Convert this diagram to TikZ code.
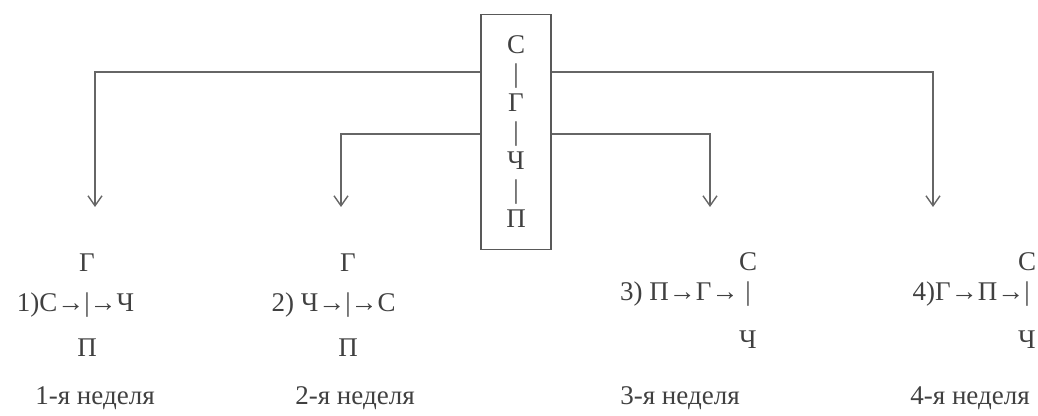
\documentclass[tikz,border=0pt]{standalone}
\usepackage{fontspec}
\setmainfont{Liberation Serif}
\usetikzlibrary{positioning,arrows.meta}

\begin{document}
\begin{tikzpicture}[x=0.5pt, y=-0.5pt,
    lbl/.style={inner sep=0pt, text=black!75, font=\fontsize{13.5}{16}\selectfont},
    wheel/.style={rectangle, draw=black!65, line width=0.8pt, minimum width=35pt, minimum height=117.5pt, inner sep=0pt, align=center, text=black!75, font=\fontsize{13.5}{14.5}\selectfont},
    arrow/.style={-{Straight Barb[length=5pt,width=7pt]}, draw=black!60, line width=0.7pt}
]
    \useasboundingbox (0,0) rectangle (1038,416);

    % Central box
    \node[wheel] (box) at (516,132) {С\\|\\Г\\|\\Ч\\|\\П};

    % Branch levels and arrow tips
    \coordinate (up)  at (0,72);
    \coordinate (low) at (0,134);
    \coordinate (t1) at (95,207);
    \coordinate (t2) at (341,207);
    \coordinate (t3) at (710,207);
    \coordinate (t4) at (933,207);

    % Branches
    \draw[arrow] (box.west |- up) -| (t1);
    \draw[arrow] (box.west |- low) -| (t2);
    \draw[arrow] (box.east |- low) -| (t3);
    \draw[arrow] (box.east |- up) -| (t4);

    % 1st week (node centred on the bar)
    \node[lbl] (g1) at (87,308) {\begin{tabular}{@{}r@{}c@{}l@{}}
        & \makebox[0pt]{Г} & \\[4pt]
        \makebox[60pt][r]{1)С→} & | & \makebox[60pt][l]{→Ч}\\[6.5pt]
        & \makebox[0pt]{П} &
    \end{tabular}};
    \node[lbl] (w1) at (95,398) {1-я неделя};

    % 2nd week
    \node[lbl] (g2) at (348,308) {\begin{tabular}{@{}r@{}c@{}l@{}}
        & \makebox[0pt]{Г} & \\[4pt]
        \makebox[60pt][r]{2) Ч→} & | & \makebox[60pt][l]{→С}\\[6.5pt]
        & \makebox[0pt]{П} &
    \end{tabular}};
    \node[lbl] (w2) at (355,398) {2-я неделя};

    % 3rd week
    \node[lbl] (g3) at (748,303) {\begin{tabular}{@{}r@{}c@{}l@{}}
        & \makebox[0pt]{С} & \\[-1pt]
        \makebox[70pt][r]{3) П→Г→\ } & | & \makebox[70pt]{}\\[8pt]
        & \makebox[0pt]{Ч} &
    \end{tabular}};
    \node[lbl] (w3) at (680,398) {3-я неделя};

    % 4th week
    \node[lbl] (g4) at (1027,303) {\begin{tabular}{@{}r@{}c@{}l@{}}
        & \makebox[0pt]{С} & \\[-1pt]
        \makebox[70pt][r]{4)Г→П→} & | & \makebox[70pt]{}\\[8pt]
        & \makebox[0pt]{Ч} &
    \end{tabular}};
    \node[lbl] (w4) at (970,398) {4-я неделя};
\end{tikzpicture}
\end{document}
